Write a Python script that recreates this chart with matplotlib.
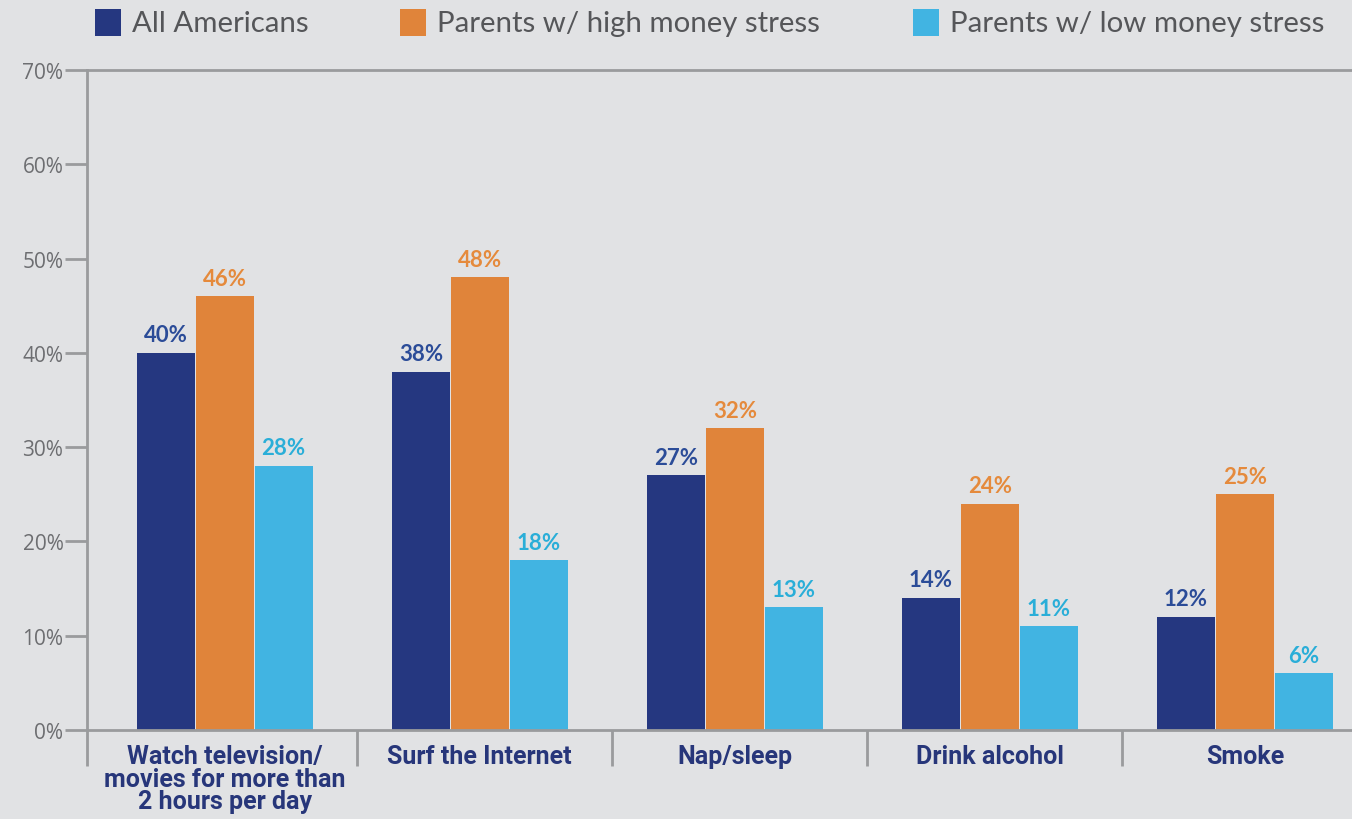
import numpy as np
import matplotlib
matplotlib.use("Agg")
import matplotlib.pyplot as plt
from matplotlib.patches import Rectangle

# survey data
categories = ["Watch television/\nmovies for more than\n2 hours per day",
              "Surf the Internet", "Nap/sleep", "Drink alcohol", "Smoke"]
all_americans = [40, 38, 27, 14, 12]
high_stress = [46, 48, 32, 24, 25]
low_stress = [28, 18, 13, 11, 6]
series_names = ["All Americans", "Parents w/ high money stress",
                "Parents w/ low money stress"]
yticks = [0, 10, 20, 30, 40, 50, 60, 70]

bar_colors = ["#253780", "#e0843a", "#41b4e2"]
label_colors = ["#2b4c98", "#e58a3c", "#2aaed8"]
bg = "#e1e2e4"
axis_gray = "#9a9b9d"
text_gray = "#6d6e71"
navy = "#27367a"

W, H = 1352, 820
fig = plt.figure(figsize=(W / 100, H / 100), dpi=100, facecolor=bg)
ax = fig.add_axes([87 / W, 1 - 731 / H, 1 - 87 / W, 660 / H])
ax.set_facecolor(bg)

x = np.arange(len(categories))
w = 0.227
step = 0.231
for k, vals in enumerate([all_americans, high_stress, low_stress]):
    pos = x + (k - 1) * step
    ax.bar(pos, vals, width=w, color=bar_colors[k], zorder=2)
    for px, v in zip(pos, vals):
        ax.text(px, v + 0.8, f"{v}%", ha="center", va="bottom",
                fontsize=16, fontweight="bold", color=label_colors[k],
                family=["Lato", "DejaVu Sans"])

ax.set_xlim(-0.54, 4.42)
ax.set_ylim(0, 70)

ax.spines["right"].set_visible(False)
for side in ["left", "top", "bottom"]:
    ax.spines[side].set_color(axis_gray)
    ax.spines[side].set_linewidth(2)

ax.set_yticks(yticks)
ax.set_yticklabels([f"{t}%" for t in yticks], fontsize=15,
                   color=text_gray, family=["Open Sans", "DejaVu Sans"])
ax.tick_params(axis="y", direction="out", length=16, width=2,
               color=axis_gray, pad=1)

# category labels sit under the bars, separators run below the baseline
ax.set_xticks(x)
ax.set_xticklabels(categories, fontsize=18, fontweight="bold", color=navy,
                   family=["Roboto", "DejaVu Sans"], linespacing=0.93)
ax.tick_params(axis="x", which="major", length=0, pad=10)
ax.set_xticks([-0.54, 0.52, 1.52, 2.52, 3.52], minor=True)
ax.tick_params(axis="x", which="minor", direction="out", length=26,
               width=2, color=axis_gray)

# legend row across the top
legend_x = [95, 400, 913]
for name, c, lx in zip(series_names, bar_colors, legend_x):
    fig.patches.append(Rectangle((lx / W, 1 - 37 / H), 26 / W, 27 / H,
                                 transform=fig.transFigure, facecolor=c,
                                 edgecolor="none"))
    fig.text((lx + 37) / W, 1 - 24 / H, name, ha="left", va="center",
             fontsize=21.2, color="#555659", family=["Lato", "DejaVu Sans"])

fig.savefig("out.png", dpi=100, facecolor=bg)
